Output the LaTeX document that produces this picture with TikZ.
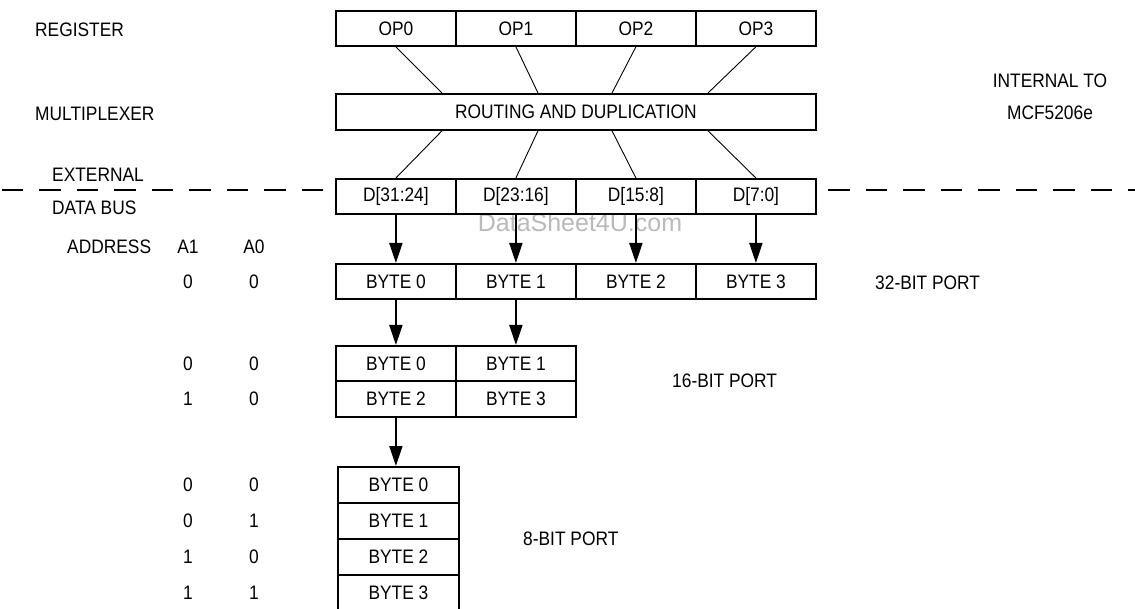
\documentclass[tikz,border=0pt]{standalone}
\usepackage{fontspec}
\setmainfont{Liberation Sans}[FakeStretch=0.89]
\newfontfamily\wmfont{Liberation Sans}
\usetikzlibrary{arrows.meta, calc}

\tikzset{
    cell/.style={draw, line width=1.8pt, minimum width=120pt, minimum height=35.5pt,
        inner sep=0pt, anchor=north west},
    lbl/.style={anchor=west, inner sep=0pt},
    bit/.style={inner sep=0pt},
    route/.style={line width=0.9pt},
    feed/.style={line width=1.8pt, -{Triangle[length=20pt, width=13pt]}},
    busline/.style={line width=1.8pt, dash pattern=on 21.5pt off 16pt}
}

\begin{document}
\begin{tikzpicture}[x=1pt, y=-1pt, font=\fontsize{19.5}{23}\selectfont]
    \useasboundingbox (0,0) rectangle (1135,609);
    \clip (0,0) rectangle (1135,609);

    % Watermark (under the arrows)
    \node[bit, text=black!27, font=\wmfont\fontsize{25}{28}\selectfont] (wm) at (580,223) {DataSheet4U.com};

    % Register operands
    \foreach \i in {0,...,3}
        \node[cell, minimum height=35pt] (op\i) at (335+120*\i,10) {OP\i};

    % Routing multiplexer
    \node[cell, minimum width=480pt, minimum height=36pt] (mux) at (335,93) {ROUTING AND DUPLICATION};
    \foreach \i/\dx in {0/107, 1/203, 2/277, 3/373} {
        \coordinate (mt\i) at ([xshift=\dx pt]mux.north west);
        \coordinate (mb\i) at ([xshift=\dx pt]mux.south west);
    }

    % External data bus lanes
    \foreach \i/\txt in {0/{D[31:24]}, 1/{D[23:16]}, 2/{D[15:8]}, 3/{D[7:0]}}
        \node[cell, minimum height=35pt] (d\i) at (335+120*\i,178) {\txt};

    \foreach \i in {0,...,3} {
        \draw[route] (op\i.south) -- (mt\i);
        \draw[route] (mb\i) -- (d\i.north);
    }

    % Boundary of the chip
    \coordinate (busl) at (323,190);
    \coordinate (busr) at (828,190);
    \draw[busline] (busl) -- (0,190);
    \draw[busline] (busr) -- (1135,190);

    % 32-bit port
    \foreach \i in {0,...,3} {
        \node[cell] (b\i) at (335+120*\i,263) {BYTE \i};
        \draw[feed] (d\i.south) -- (b\i.north);
    }

    % 16-bit port
    \node[cell] (h0) at (335,345) {BYTE 0};
    \node[cell] (h1) at (455,345) {BYTE 1};
    \node[cell] (h2) at (335,380.5) {BYTE 2};
    \node[cell] (h3) at (455,380.5) {BYTE 3};
    \draw[feed] (b0.south) -- (h0.north);
    \draw[feed] (b1.south) -- (h1.north);

    % 8-bit port
    \foreach \i in {0,...,3}
        \node[cell, minimum width=121pt, minimum height=36pt] (e\i) at (337,466+36*\i) {BYTE \i};
    \draw[feed] (h2.south) -- (h2.south |- e0.north);

    % Left labels
    \node[lbl] (reg) at (35,30) {REGISTER};
    \node[lbl] (mpx) at (35,114) {MULTIPLEXER};
    \node[lbl] (ext) at (52,175) {EXTERNAL};
    \node[lbl] (dbus) at (52,208) {DATA BUS};
    \node[lbl] (addr) at (67,247) {ADDRESS};
    \node[bit] (a1) at (188,247) {A1};
    \node[bit] (a0) at (254,247) {A0};

    % Address lines per row
    \foreach \cel/\hi/\lo in {b0/0/0, h0/0/0, h2/1/0, e0/0/0, e1/0/1, e2/1/0, e3/1/1} {
        \node[bit] (hi-\cel) at (\cel -| a1) {\hi};
        \node[bit] (lo-\cel) at (\cel -| a0) {\lo};
    }

    % Right labels
    \node[bit] (intl) at (1050,81) {INTERNAL TO};
    \node[bit] (chip) at (1050,113) {MCF5206e};
    \node[lbl] (p32) at (875,283) {32-BIT PORT};
    \node[lbl] (p16) at (672,381) {16-BIT PORT};
    \node[lbl] (p8) at (523,539) {8-BIT PORT};
\end{tikzpicture}
\end{document}
